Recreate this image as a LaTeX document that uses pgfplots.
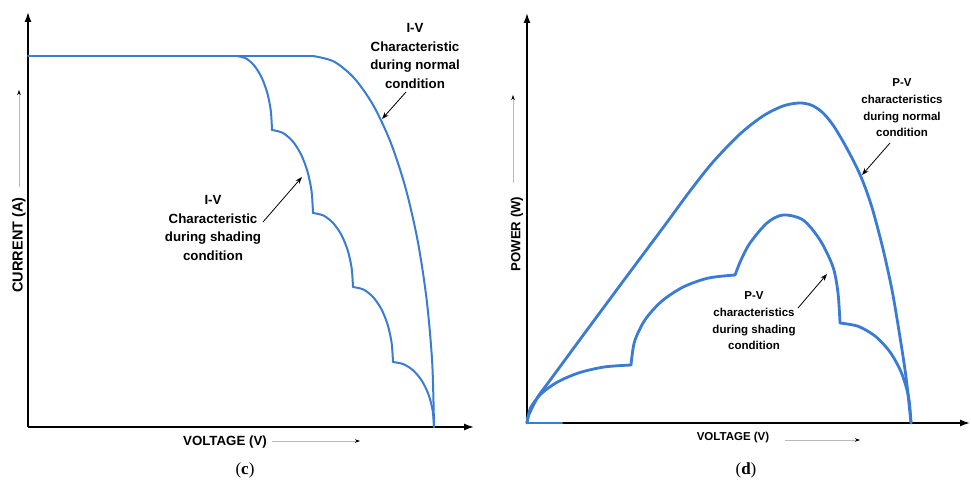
\documentclass[border=0pt]{standalone}
\usepackage{pgfplots}
\pgfplotsset{compat=1.18}
\usetikzlibrary{arrows.meta}
\usepackage{fontspec}
\setmainfont{Liberation Sans}
\newfontfamily\panelfont{Liberation Serif}
\definecolor{curve}{RGB}{58,123,213}

\newcommand\bigtxt{\bfseries\fontsize{13.3}{18.7}\selectfont}
\newcommand\smalltxt{\bfseries\fontsize{11.5}{16.7}\selectfont}

\pgfplotsset{
  sketch/.style={
    scale only axis, axis lines=left,
    xtick=\empty, ytick=\empty,
    clip=false, xmin=0, ymin=0,
    anchor=south west,
    axis line style={black, line width=1.6pt, -{Latex[length=10pt,width=7pt]}},
  },
  iv/.style={curve, line width=2pt, line cap=round, line join=round, no marks},
  pv/.style={curve, line width=2.8pt, line cap=round, line join=round, no marks},
}
\tikzset{
  note/.style={black, line width=0.8pt, -{Stealth[length=7pt,width=5pt]}},
  hint/.style={gray!55, line width=0.7pt, -{Stealth[length=5pt,width=3.5pt,color=black]}},
}

\begin{document}
\begin{tikzpicture}
% (c) I-V curves
\begin{axis}[sketch, at={(28pt,55pt)}, width=446pt, height=415pt,
  xmax=446, ymax=415]
  % normal condition
  \addplot[iv] coordinates {(0,371) (285,371)};
  \addplot[iv, smooth] coordinates {
    (285,371) (306.0,365.4) (326.4,348.6) (345.5,321.3) (362.8,284.2)
    (377.7,238.5) (389.8,185.5) (398.7,126.9) (404.2,64.4) (406,0)};
  % shading condition, five steps
  \addplot[iv, smooth] coordinates {
    (209,371) (218.1,368.5) (226.5,361.1) (233.7,349.3) (239.3,334.0) (242.8,316.2) (244,297)};
  \addplot[iv, smooth] coordinates {
    (244,297) (254.6,294.2) (264.5,285.9) (273.0,272.7) (279.5,255.5) (283.6,235.5) (285,214)};
  \addplot[iv, smooth] coordinates {
    (285,214) (295.4,211.5) (305.0,204.1) (313.3,192.3) (319.6,177.0) (323.6,159.2) (325,140)};
  \addplot[iv, smooth] coordinates {
    (325,140) (335.4,137.5) (345.0,130.0) (353.3,118.0) (359.6,102.5) (363.6,84.4) (365,65)};
  \addplot[iv, smooth] coordinates {
    (365,65) (375.6,62.8) (385.5,56.3) (394.0,46.0) (400.5,32.5) (404.6,16.8) (406,0)};

  \node[align=center, font=\bigtxt] at (axis cs:387,371)
    {I-V\\Characteristic\\during normal\\condition};
  \draw[note] (axis cs:378,335) -- (axis cs:354,308);
  \node[align=center, font=\bigtxt] at (axis cs:185,199)
    {I-V\\Characteristic\\during shading\\condition};
  \draw[note] (axis cs:235,205) -- (axis cs:274,250);

  \node[font=\bigtxt] at (axis cs:197,-15) {VOLTAGE (V)};
  \draw[hint] (axis cs:244,-14) -- (axis cs:332,-14);
  \node[rotate=90, font=\bfseries\fontsize{14.5}{17}\selectfont] at (axis cs:-9,182) {CURRENT (A)};
  \draw[hint] (axis cs:-9,240) -- (axis cs:-9,337);
  \node[font=\panelfont\fontsize{17}{20}\selectfont] at (axis cs:217,-43) {(\textbf{c})};
\end{axis}

% (d) P-V curves
\begin{axis}[sketch, at={(527pt,59pt)}, width=443pt, height=410pt,
  xmax=443, ymax=410]
  \addplot[pv] coordinates {(0,0) (35,0)};
  % normal condition
  \addplot[pv, smooth] coordinates {
    (0,0) (1,6) (5,15) (12,28) (21,40) (60,93) (100,147) (138,198) (163,232)
    (186,261) (213,289) (236,307) (256,317) (272,320) (284,318) (295,311)
    (306,298) (318,278) (330,255) (338,236) (346,212) (356,174) (365,133)
    (372,92) (379,46) (384,0)};
  % shading condition, three steps
  \addplot[pv, smooth] coordinates {
    (0,0) (3.5,15.0) (13.9,29.0) (30.5,41.0) (52.0,50.2) (77.1,56.0) (104,58)};
  \addplot[pv, smooth] coordinates {
    (104,58) (107.5,81.3) (117.9,103.0) (134.5,121.6) (156.0,135.9) (181.1,144.9) (208,148)};
  \addplot[pv, smooth] coordinates {
    (208,148) (214,163) (223,180) (240,200) (256,208) (276,203) (293,183)
    (306,156) (311,130) (313,100)};
  \addplot[pv, smooth] coordinates {
    (313,100) (331.4,96.6) (348.5,86.6) (363.2,70.7) (374.5,50.0) (381.6,25.9) (384,0)};

  \node[align=center, font=\smalltxt] at (axis cs:375,315)
    {P-V\\characteristics\\during normal\\condition};
  \draw[note] (axis cs:363,280) -- (axis cs:335,248);
  \node[align=center, font=\smalltxt] at (axis cs:227,102)
    {P-V\\characteristics\\during shading\\condition};
  \draw[note] (axis cs:271,115) -- (axis cs:300,149);

  \node[font=\smalltxt] at (axis cs:206,-15) {VOLTAGE (V)};
  \draw[hint] (axis cs:258,-17) -- (axis cs:333,-17);
  \node[rotate=90, font=\bfseries\fontsize{13.2}{16}\selectfont] at (axis cs:-10,189) {POWER (W)};
  \draw[hint] (axis cs:-14,240) -- (axis cs:-14,328);
  \node[font=\panelfont\fontsize{17}{20}\selectfont] at (axis cs:219,-47) {(\textbf{d})};
\end{axis}
\pgfresetboundingbox
\path[use as bounding box] (0,0) rectangle (971pt,482pt);
\end{tikzpicture}
\end{document}
